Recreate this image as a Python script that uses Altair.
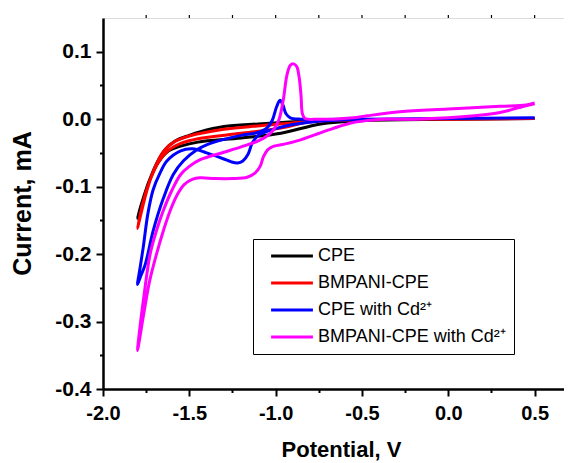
import altair as alt
import pandas as pd

# ---------------- data ----------------
series = ["CPE", "BMPANI-CPE", "CPE with Cd²⁺", "BMPANI-CPE with Cd²⁺"]
colors = ["#000000", "#ff0000", "#0000ff", "#ff00ff"]

cpe_v = [0.5, 0.0, -0.5, -0.74, -0.97, -1.2, -1.45, -1.55, -1.62, -1.68, -1.73, -1.77, -1.8,
         -1.78, -1.74, -1.69, -1.64, -1.58, -1.5, -1.44, -1.3, -1.1, -0.92, -0.75, -0.5, 0.0, 0.5]
cpe_i = [0.001, 0.0, -0.002, -0.007, -0.021, -0.028, -0.034, -0.040, -0.047, -0.064, -0.090, -0.120, -0.147,
         -0.128, -0.097, -0.066, -0.045, -0.032, -0.024, -0.019, -0.011, -0.007, -0.004, -0.002, -0.001, 0.0, 0.001]

bm_v = [0.5, 0.0, -0.5, -0.8, -0.97, -1.2, -1.45, -1.55, -1.62, -1.68, -1.73, -1.77, -1.8,
        -1.78, -1.745, -1.7, -1.65, -1.59, -1.5, -1.3, -1.107, -0.915, -0.8, -0.5, 0.0, 0.5]
bm_i = [0.001, 0.0, -0.001, -0.004, -0.013, -0.021, -0.029, -0.036, -0.046, -0.064, -0.092, -0.125, -0.162,
        -0.140, -0.105, -0.072, -0.048, -0.034, -0.025, -0.015, -0.010, -0.006, -0.003, -0.001, 0.0, 0.001]

cd_v = [0.5, 0.0, -0.5, -0.75, -0.9, -1.0, -1.06, -1.1, -1.135, -1.16, -1.19, -1.22, -1.26, -1.3, -1.4,
        -1.48, -1.55, -1.63, -1.67, -1.71, -1.74, -1.767, -1.785, -1.8,
        -1.785, -1.755, -1.71, -1.65, -1.593, -1.535, -1.454, -1.4, -1.3, -1.2, -1.107, -1.05, -1.02,
        -0.995, -0.975, -0.958, -0.94, -0.915, -0.85, -0.5, 0.0, 0.5]
cd_i = [0.002, 0.001, 0.0, -0.003, -0.008, -0.014, -0.019, -0.024, -0.035, -0.052, -0.062, -0.065, -0.063, -0.059, -0.050,
        -0.044, -0.047, -0.062, -0.080, -0.105, -0.140, -0.190, -0.220, -0.245,
        -0.235, -0.215, -0.166, -0.117, -0.082, -0.062, -0.045, -0.038, -0.030, -0.024, -0.020, -0.013, -0.002,
        0.018, 0.028, 0.021, 0.008, 0.002, 0.0, 0.0, 0.001, 0.002]

bmcd_v = [0.5, 0.45, 0.3, 0.15, 0.0, -0.2, -0.38, -0.47, -0.57, -0.67, -0.76, -0.86, -0.95, -1.01, -1.045,
          -1.07, -1.09, -1.12, -1.165, -1.25, -1.35, -1.44, -1.48, -1.53, -1.57, -1.61, -1.65, -1.69, -1.73,
          -1.765, -1.8,
          -1.782, -1.767, -1.727, -1.69, -1.65, -1.6, -1.55, -1.5, -1.437, -1.3, -1.2, -1.107, -1.05, -1.01,
          -0.98, -0.955, -0.935, -0.915, -0.897, -0.878, -0.864, -0.853, -0.845, -0.83, -0.75, -0.666, -0.55,
          -0.47, -0.28, 0.0, 0.3, 0.45, 0.5]
bmcd_i = [0.023, 0.02, 0.01, 0.005, 0.002, 0.0, 0.0, -0.002, -0.006, -0.014, -0.022, -0.031, -0.037, -0.040, -0.045,
          -0.055, -0.070, -0.080, -0.086, -0.088, -0.088, -0.087, -0.089, -0.097, -0.112, -0.135, -0.165, -0.200, -0.240,
          -0.290, -0.343,
          -0.300, -0.270, -0.200, -0.165, -0.135, -0.105, -0.082, -0.070, -0.060, -0.049, -0.041, -0.033, -0.025, -0.015,
          0.0, 0.030, 0.065, 0.080, 0.082, 0.078, 0.062, 0.035, 0.008, 0.001, 0.0, 0.0, 0.002,
          0.005, 0.011, 0.015, 0.019, 0.021, 0.024]

x_ticks = [-2.0, -1.75, -1.5, -1.25, -1.0, -0.75, -0.5, -0.25, 0.0, 0.25, 0.5]
top_ticks = [-1.75, -1.5, -1.25, -1.0, -0.75, -0.5, -0.25, 0.0, 0.25, 0.5]
y_ticks = [-0.4, -0.35, -0.3, -0.25, -0.2, -0.15, -0.1, -0.05, 0.0, 0.05, 0.1]

# ---------------- table ----------------
rows = []
for name, vs, cs in zip(series, [cpe_v, bm_v, cd_v, bmcd_v], [cpe_i, bm_i, cd_i, bmcd_i]):
    for k, (v, c) in enumerate(zip(vs, cs)):
        rows.append({"series": name, "k": k, "V": v, "I": c})
df = pd.DataFrame(rows)
top_df = pd.DataFrame({"V": top_ticks})

FONT = "Liberation Sans"
xscale = alt.Scale(domain=[-2.0, 0.67], nice=False, zero=False)
yscale = alt.Scale(domain=[-0.4, 0.15], nice=False, zero=False)

x_major = "abs(datum.value*2 - round(datum.value*2)) < 0.01"
y_major = "abs(datum.value*10 - round(datum.value*10)) < 0.01"

lines = alt.Chart(df).mark_line(strokeWidth=3, interpolate="catmull-rom").encode(
    x=alt.X("V:Q", scale=xscale, axis=alt.Axis(
        values=x_ticks, title="Potential, V",
        labelExpr=f"{x_major} ? replace(format(datum.value, '.1f'), '\u2212', '-') : ''",
        tickSize={"condition": {"test": x_major, "value": 7}, "value": 3.5},
        tickWidth=2, tickColor="black", domainWidth=2.5, domainColor="black",
        labelFont=FONT, labelFontSize=20, labelFontWeight="bold", labelColor="black",
        labelPadding=7, labelFlush=False, labelOverlap=False, grid=False,
        titleFont=FONT, titleFontSize=22, titleFontWeight="bold", titleColor="black",
        titleX=238, titleY=67, titleBaseline="alphabetic",
    )),
    y=alt.Y("I:Q", scale=yscale, axis=alt.Axis(
        values=y_ticks, title="Current, mA",
        labelExpr=f"{y_major} ? replace(format(datum.value, '.1f'), '\u2212', '-') : ''",
        tickSize={"condition": {"test": y_major, "value": 7}, "value": 3.5},
        tickWidth=2, tickColor="black", domainWidth=2.5, domainColor="black",
        labelFont=FONT, labelFontSize=21, labelFontWeight="bold", labelColor="black",
        labelPadding=5, labelFlush=False, labelOverlap=False, grid=False,
        titleFont=FONT, titleFontSize=25, titleFontWeight="bold", titleColor="black",
        titleAngle=270, titleX=-73, titleY=185, titleBaseline="alphabetic", titleAlign="center",
    )),
    color=alt.Color("series:N", scale=alt.Scale(domain=series, range=colors), legend=alt.Legend(
        orient="none", legendX=150, legendY=221, title=None,
        symbolType="M-5,0H5", symbolSize=70, symbolStrokeWidth=3,
        symbolOffset=22, labelOffset=17, labelLimit=400,
        labelFont=FONT, labelFontSize=18, labelColor="black",
        strokeColor="black", fillColor="white", padding=8, rowPadding=9,
    )),
    order=alt.Order("k:Q"),
)

top = alt.Chart(top_df).mark_rule(color="black", strokeWidth=1.2).encode(
    x=alt.X("V:Q", scale=xscale),
    y=alt.value(-3),
    y2=alt.value(0),
)

chart = alt.layer(lines, top).properties(
    width=461, height=371,
    autosize=alt.AutoSizeParams(type="none"),
    padding={"left": 95, "top": 10, "right": 0, "bottom": 74},
).configure_view(stroke=None).configure(background="white")

chart.save("out.html", embed_options={"renderer": "svg", "actions": False})
